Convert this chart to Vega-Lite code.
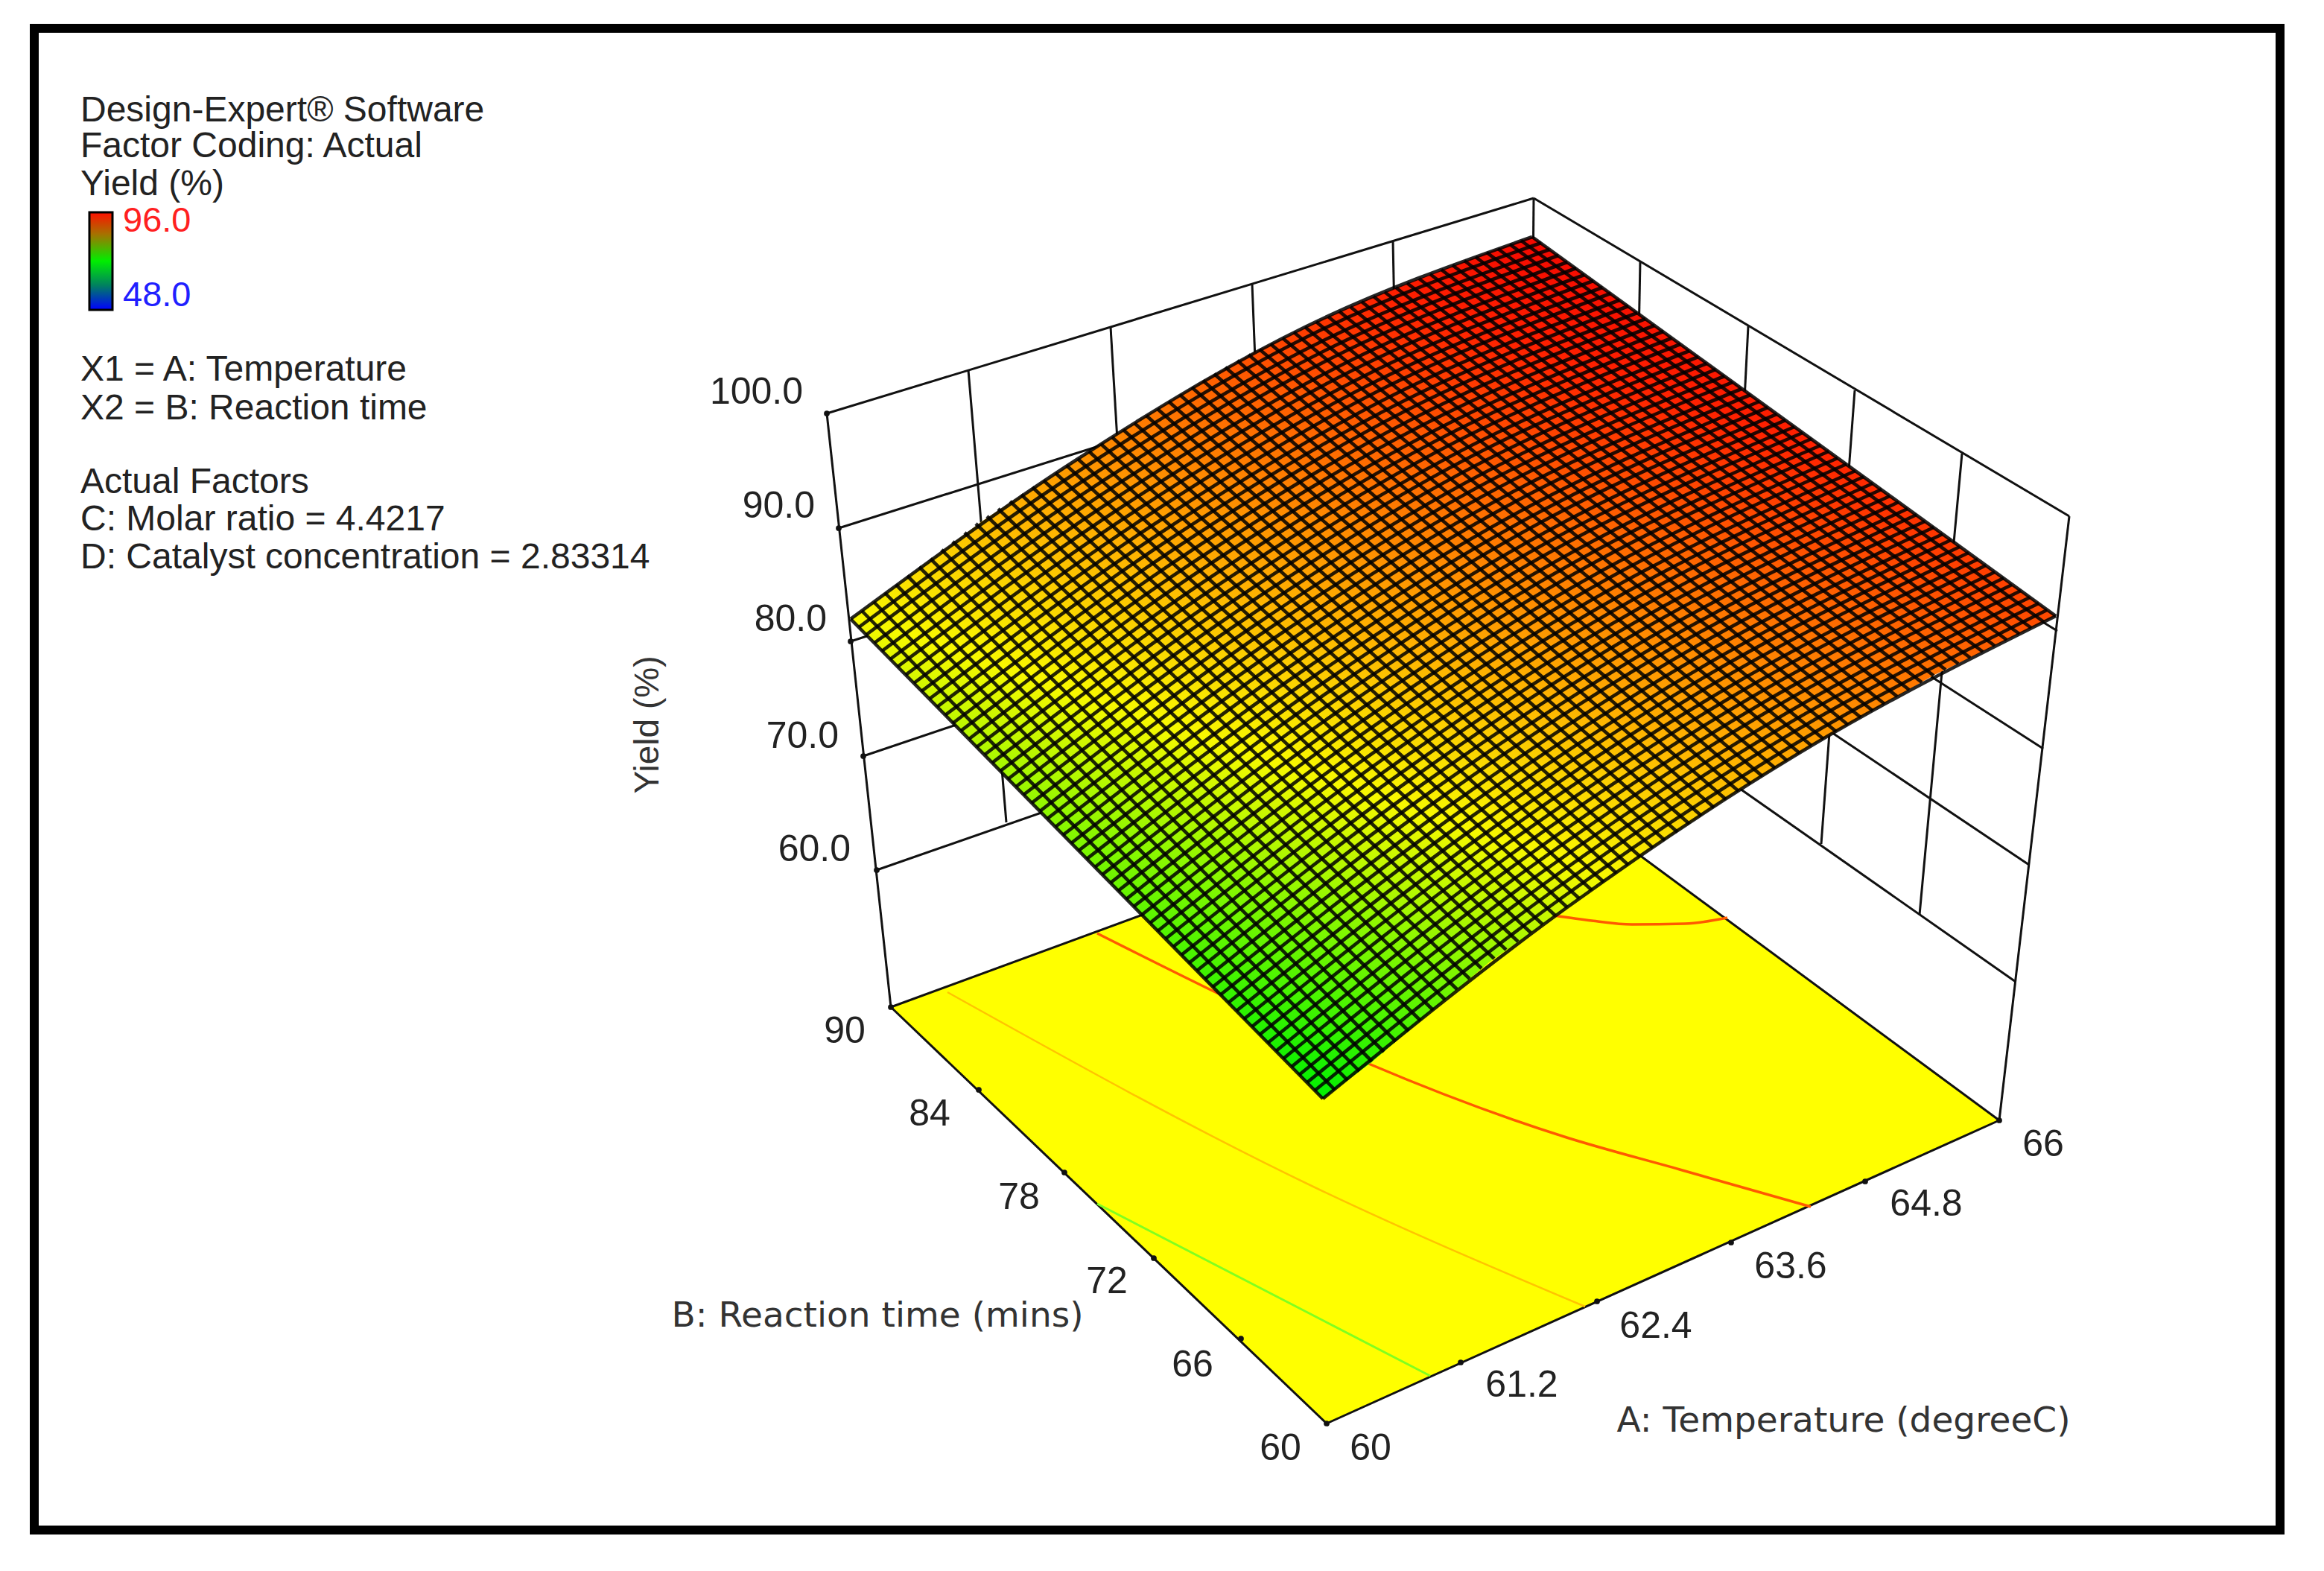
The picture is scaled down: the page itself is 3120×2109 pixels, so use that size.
{"$schema":"https://vega.github.io/schema/vega-lite/v6.json","width":3120,"height":2109,"padding":0,"autosize":{"type":"fit","contains":"padding"},"background":"white","config":{"view":{"stroke":null}},
"datasets":{
"frame":[{"x":46,"y":38,"x2":3061,"y2":2054}],
"bar":[{"x":120,"y":285,"x2":151,"y2":416}],
"walls":[{"x":1110,"y":555,"x2":2059,"y2":266},{"x":2059,"y":266,"x2":2778,"y2":693},{"x":2059,"y":266,"x2":2052,"y2":1038},{"x":1110,"y":555,"x2":1196,"y2":1352},{"x":2778,"y":693,"x2":2684,"y2":1504},
{"x":1126,"y":709,"x2":2058,"y2":415},{"x":1142,"y":861,"x2":2057,"y2":564},{"x":1159,"y":1015,"x2":2056,"y2":713},{"x":1177,"y":1168,"x2":2055,"y2":862},
{"x":2058,"y":415,"x2":2762,"y2":847},{"x":2057,"y":564,"x2":2743,"y2":1005},{"x":2056,"y":713,"x2":2724,"y2":1161},{"x":2055,"y":862,"x2":2706,"y2":1318},
{"x":1300,"y":497,"x2":1351,"y2":1104},{"x":1491,"y":439,"x2":1527,"y2":1047},{"x":1681,"y":381,"x2":1705,"y2":990},{"x":1870,"y":323,"x2":1882,"y2":930},
{"x":2202,"y":351,"x2":2190,"y2":975},{"x":2347,"y":438,"x2":2316,"y2":1045},{"x":2490,"y":524,"x2":2445,"y2":1133},{"x":2634,"y":609,"x2":2577,"y2":1228}],
"floor":[{"x":1196,"y":1352,"y2":1352},{"x":1781,"y":1137,"y2":1911},{"x":2052,"y":1038,"y2":1789},{"x":2684,"y":1504,"y2":1504}],
"flooredges":[{"x":1196,"y":1352,"x2":2052,"y2":1038},{"x":2052,"y":1038,"x2":2684,"y2":1504},{"x":1196,"y":1352,"x2":1781,"y2":1911},{"x":1781,"y":1911,"x2":2684,"y2":1504}],
"contours":[{"l":"a","x":2086,"y":1229},{"l":"a","x":2137,"y":1236},{"l":"a","x":2191,"y":1241},{"l":"a","x":2262,"y":1240},{"l":"a","x":2319,"y":1232},
{"l":"b","x":1473,"y":1253},{"l":"b","x":1636,"y":1334},{"l":"b","x":1840,"y":1429},{"l":"b","x":2100,"y":1526},{"l":"b","x":2255,"y":1570},{"l":"b","x":2431,"y":1620}],
"faint":[{"x":1272,"y":1332},{"x":1763,"y":1593},{"x":2128,"y":1754}],
"green":[{"x":1473,"y":1616},{"x":1920,"y":1847}],
"ticks":[{"x":1196,"y":1352},{"x":1314,"y":1463},{"x":1429,"y":1574},{"x":1549,"y":1689},{"x":1666,"y":1797},{"x":1781,"y":1911},{"x":1961,"y":1829},{"x":2144,"y":1747},{"x":2324,"y":1668},{"x":2504,"y":1586},{"x":2684,"y":1504},{"x":1110,"y":555},{"x":1126,"y":709},{"x":1142,"y":861},{"x":1159,"y":1015},{"x":1177,"y":1168}],
"surface":[{"x":1142,"y":831,"y2":831},{"x":1284,"y":726,"y2":975},{"x":1318,"y":700,"y2":1010},{"x":1395,"y":650,"y2":1088},{"x":1499,"y":583,"y2":1194},{"x":1534,"y":561,"y2":1229},{"x":1623,"y":507,"y2":1320},{"x":1684,"y":473,"y2":1382},{"x":1706,"y":462,"y2":1404},{"x":1776,"y":428,"y2":1475},{"x":1840,"y":400,"y2":1427},{"x":1880,"y":384,"y2":1393},{"x":2000,"y":338,"y2":1291},{"x":2057,"y":318,"y2":1251},{"x":2086,"y":339,"y2":1230},{"x":2201,"y":422,"y2":1151},{"x":2203,"y":424,"y2":1149},{"x":2338,"y":521,"y2":1059},{"x":2343,"y":525,"y2":1056},{"x":2434,"y":591,"y2":1000},{"x":2486,"y":629,"y2":970},{"x":2597,"y":709,"y2":906},{"x":2624,"y":729,"y2":893},{"x":2760,"y":827,"y2":827}],
"meshA":[
{"l":0,"x":1142,"y":831},{"l":0,"x":1447,"y":616},{"l":0,"x":1752,"y":439},{"l":0,"x":2057,"y":318},
{"l":1,"x":1153,"y":842},{"l":1,"x":1458,"y":626},{"l":1,"x":1763,"y":448},{"l":1,"x":2069,"y":326},
{"l":2,"x":1163,"y":852},{"l":2,"x":1469,"y":636},{"l":2,"x":1775,"y":458},{"l":2,"x":2080,"y":335},
{"l":3,"x":1174,"y":863},{"l":3,"x":1480,"y":646},{"l":3,"x":1786,"y":467},{"l":3,"x":2092,"y":343},
{"l":4,"x":1184,"y":874},{"l":4,"x":1491,"y":656},{"l":4,"x":1797,"y":476},{"l":4,"x":2104,"y":352},
{"l":5,"x":1195,"y":885},{"l":5,"x":1502,"y":666},{"l":5,"x":1809,"y":486},{"l":5,"x":2116,"y":360},
{"l":6,"x":1205,"y":895},{"l":6,"x":1513,"y":676},{"l":6,"x":1820,"y":495},{"l":6,"x":2127,"y":369},
{"l":7,"x":1216,"y":906},{"l":7,"x":1524,"y":686},{"l":7,"x":1831,"y":505},{"l":7,"x":2139,"y":377},
{"l":8,"x":1227,"y":917},{"l":8,"x":1535,"y":696},{"l":8,"x":1843,"y":514},{"l":8,"x":2151,"y":386},
{"l":9,"x":1237,"y":928},{"l":9,"x":1546,"y":706},{"l":9,"x":1854,"y":523},{"l":9,"x":2162,"y":394},
{"l":10,"x":1248,"y":938},{"l":10,"x":1557,"y":716},{"l":10,"x":1865,"y":533},{"l":10,"x":2174,"y":403},
{"l":11,"x":1258,"y":949},{"l":11,"x":1567,"y":726},{"l":11,"x":1877,"y":542},{"l":11,"x":2186,"y":411},
{"l":12,"x":1269,"y":960},{"l":12,"x":1578,"y":736},{"l":12,"x":1888,"y":551},{"l":12,"x":2198,"y":420},
{"l":13,"x":1279,"y":971},{"l":13,"x":1589,"y":746},{"l":13,"x":1899,"y":561},{"l":13,"x":2209,"y":428},
{"l":14,"x":1290,"y":981},{"l":14,"x":1600,"y":756},{"l":14,"x":1911,"y":570},{"l":14,"x":2221,"y":437},
{"l":15,"x":1301,"y":992},{"l":15,"x":1611,"y":766},{"l":15,"x":1922,"y":580},{"l":15,"x":2233,"y":445},
{"l":16,"x":1311,"y":1003},{"l":16,"x":1622,"y":777},{"l":16,"x":1933,"y":589},{"l":16,"x":2244,"y":454},
{"l":17,"x":1322,"y":1013},{"l":17,"x":1633,"y":787},{"l":17,"x":1945,"y":598},{"l":17,"x":2256,"y":462},
{"l":18,"x":1332,"y":1024},{"l":18,"x":1644,"y":797},{"l":18,"x":1956,"y":608},{"l":18,"x":2268,"y":471},
{"l":19,"x":1343,"y":1035},{"l":19,"x":1655,"y":807},{"l":19,"x":1967,"y":617},{"l":19,"x":2280,"y":479},
{"l":20,"x":1353,"y":1046},{"l":20,"x":1666,"y":817},{"l":20,"x":1979,"y":626},{"l":20,"x":2291,"y":488},
{"l":21,"x":1364,"y":1056},{"l":21,"x":1677,"y":827},{"l":21,"x":1990,"y":636},{"l":21,"x":2303,"y":496},
{"l":22,"x":1374,"y":1067},{"l":22,"x":1688,"y":837},{"l":22,"x":2001,"y":645},{"l":22,"x":2315,"y":505},
{"l":23,"x":1385,"y":1078},{"l":23,"x":1699,"y":847},{"l":23,"x":2013,"y":654},{"l":23,"x":2326,"y":513},
{"l":24,"x":1396,"y":1089},{"l":24,"x":1710,"y":857},{"l":24,"x":2024,"y":664},{"l":24,"x":2338,"y":522},
{"l":25,"x":1406,"y":1099},{"l":25,"x":1721,"y":867},{"l":25,"x":2035,"y":673},{"l":25,"x":2350,"y":530},
{"l":26,"x":1417,"y":1110},{"l":26,"x":1732,"y":877},{"l":26,"x":2047,"y":683},{"l":26,"x":2362,"y":539},
{"l":27,"x":1427,"y":1121},{"l":27,"x":1743,"y":887},{"l":27,"x":2058,"y":692},{"l":27,"x":2373,"y":547},
{"l":28,"x":1438,"y":1132},{"l":28,"x":1754,"y":897},{"l":28,"x":2069,"y":701},{"l":28,"x":2385,"y":556},
{"l":29,"x":1448,"y":1142},{"l":29,"x":1765,"y":907},{"l":29,"x":2081,"y":711},{"l":29,"x":2397,"y":564},
{"l":30,"x":1459,"y":1153},{"l":30,"x":1776,"y":917},{"l":30,"x":2092,"y":720},{"l":30,"x":2409,"y":573},
{"l":31,"x":1470,"y":1164},{"l":31,"x":1786,"y":927},{"l":31,"x":2103,"y":729},{"l":31,"x":2420,"y":581},
{"l":32,"x":1480,"y":1174},{"l":32,"x":1797,"y":937},{"l":32,"x":2115,"y":739},{"l":32,"x":2432,"y":589},
{"l":33,"x":1491,"y":1185},{"l":33,"x":1808,"y":947},{"l":33,"x":2126,"y":748},{"l":33,"x":2444,"y":598},
{"l":34,"x":1501,"y":1196},{"l":34,"x":1819,"y":957},{"l":34,"x":2137,"y":757},{"l":34,"x":2455,"y":606},
{"l":35,"x":1512,"y":1207},{"l":35,"x":1830,"y":967},{"l":35,"x":2149,"y":767},{"l":35,"x":2467,"y":615},
{"l":36,"x":1522,"y":1217},{"l":36,"x":1841,"y":977},{"l":36,"x":2160,"y":776},{"l":36,"x":2479,"y":623},
{"l":37,"x":1533,"y":1228},{"l":37,"x":1852,"y":987},{"l":37,"x":2171,"y":786},{"l":37,"x":2491,"y":632},
{"l":38,"x":1544,"y":1239},{"l":38,"x":1863,"y":997},{"l":38,"x":2183,"y":795},{"l":38,"x":2502,"y":640},
{"l":39,"x":1554,"y":1250},{"l":39,"x":1874,"y":1007},{"l":39,"x":2194,"y":804},{"l":39,"x":2514,"y":649},
{"l":40,"x":1565,"y":1260},{"l":40,"x":1885,"y":1017},{"l":40,"x":2205,"y":814},{"l":40,"x":2526,"y":657},
{"l":41,"x":1575,"y":1271},{"l":41,"x":1896,"y":1027},{"l":41,"x":2217,"y":823},{"l":41,"x":2537,"y":666},
{"l":42,"x":1586,"y":1282},{"l":42,"x":1907,"y":1037},{"l":42,"x":2228,"y":832},{"l":42,"x":2549,"y":674},
{"l":43,"x":1596,"y":1293},{"l":43,"x":1918,"y":1047},{"l":43,"x":2239,"y":842},{"l":43,"x":2561,"y":683},
{"l":44,"x":1607,"y":1303},{"l":44,"x":1929,"y":1057},{"l":44,"x":2251,"y":851},{"l":44,"x":2573,"y":691},
{"l":45,"x":1618,"y":1314},{"l":45,"x":1940,"y":1067},{"l":45,"x":2262,"y":860},{"l":45,"x":2584,"y":700},
{"l":46,"x":1628,"y":1325},{"l":46,"x":1951,"y":1078},{"l":46,"x":2273,"y":870},{"l":46,"x":2596,"y":708},
{"l":47,"x":1639,"y":1335},{"l":47,"x":1962,"y":1088},{"l":47,"x":2285,"y":879},{"l":47,"x":2608,"y":717},
{"l":48,"x":1649,"y":1346},{"l":48,"x":1973,"y":1098},{"l":48,"x":2296,"y":889},{"l":48,"x":2619,"y":725},
{"l":49,"x":1660,"y":1357},{"l":49,"x":1984,"y":1108},{"l":49,"x":2307,"y":898},{"l":49,"x":2631,"y":734},
{"l":50,"x":1670,"y":1368},{"l":50,"x":1995,"y":1118},{"l":50,"x":2319,"y":907},{"l":50,"x":2643,"y":742},
{"l":51,"x":1681,"y":1378},{"l":51,"x":2005,"y":1128},{"l":51,"x":2330,"y":917},{"l":51,"x":2655,"y":751},
{"l":52,"x":1691,"y":1389},{"l":52,"x":2016,"y":1138},{"l":52,"x":2341,"y":926},{"l":52,"x":2666,"y":759},
{"l":53,"x":1702,"y":1400},{"l":53,"x":2027,"y":1148},{"l":53,"x":2353,"y":935},{"l":53,"x":2678,"y":768},
{"l":54,"x":1713,"y":1411},{"l":54,"x":2038,"y":1158},{"l":54,"x":2364,"y":945},{"l":54,"x":2690,"y":776},
{"l":55,"x":1723,"y":1421},{"l":55,"x":2049,"y":1168},{"l":55,"x":2375,"y":954},{"l":55,"x":2701,"y":785},
{"l":56,"x":1734,"y":1432},{"l":56,"x":2060,"y":1178},{"l":56,"x":2387,"y":964},{"l":56,"x":2713,"y":793},
{"l":57,"x":1744,"y":1443},{"l":57,"x":2071,"y":1188},{"l":57,"x":2398,"y":973},{"l":57,"x":2725,"y":802},
{"l":58,"x":1755,"y":1453},{"l":58,"x":2082,"y":1198},{"l":58,"x":2409,"y":982},{"l":58,"x":2737,"y":810},
{"l":59,"x":1765,"y":1464},{"l":59,"x":2093,"y":1208},{"l":59,"x":2421,"y":992},{"l":59,"x":2748,"y":819},
{"l":60,"x":1776,"y":1475},{"l":60,"x":2104,"y":1218},{"l":60,"x":2432,"y":1001},{"l":60,"x":2760,"y":827}],
"meshB":[
{"x":1142,"y":831,"x2":1776,"y2":1475},{"x":1157,"y":820,"x2":1792,"y2":1463},{"x":1173,"y":808,"x2":1809,"y2":1450},{"x":1188,"y":796,"x2":1825,"y2":1438},{"x":1203,"y":785,"x2":1842,"y2":1425},{"x":1218,"y":773,"x2":1858,"y2":1412},{"x":1234,"y":761,"x2":1874,"y2":1398},{"x":1249,"y":750,"x2":1891,"y2":1384},{"x":1264,"y":738,"x2":1907,"y2":1370},{"x":1279,"y":727,"x2":1924,"y2":1356},
{"x":1295,"y":715,"x2":1940,"y2":1342},{"x":1310,"y":703,"x2":1956,"y2":1328},{"x":1325,"y":693,"x2":1973,"y2":1314},{"x":1340,"y":683,"x2":1989,"y2":1300},{"x":1356,"y":673,"x2":2006,"y2":1287},{"x":1371,"y":664,"x2":2022,"y2":1275},{"x":1386,"y":654,"x2":2038,"y2":1264},{"x":1401,"y":645,"x2":2055,"y2":1252},{"x":1417,"y":635,"x2":2071,"y2":1241},{"x":1432,"y":625,"x2":2088,"y2":1229},
{"x":1447,"y":616,"x2":2104,"y2":1218},{"x":1462,"y":606,"x2":2120,"y2":1206},{"x":1478,"y":596,"x2":2137,"y2":1195},{"x":1493,"y":587,"x2":2153,"y2":1184},{"x":1508,"y":577,"x2":2170,"y2":1172},{"x":1523,"y":568,"x2":2186,"y2":1161},{"x":1539,"y":558,"x2":2202,"y2":1150},{"x":1554,"y":549,"x2":2219,"y2":1138},{"x":1569,"y":539,"x2":2235,"y2":1128},{"x":1584,"y":530,"x2":2252,"y2":1117},
{"x":1600,"y":520,"x2":2268,"y2":1106},{"x":1615,"y":511,"x2":2284,"y2":1095},{"x":1630,"y":502,"x2":2301,"y2":1084},{"x":1645,"y":493,"x2":2317,"y2":1073},{"x":1661,"y":484,"x2":2334,"y2":1062},{"x":1676,"y":476,"x2":2350,"y2":1052},{"x":1691,"y":469,"x2":2366,"y2":1042},{"x":1706,"y":462,"x2":2383,"y2":1031},{"x":1722,"y":454,"x2":2399,"y2":1021},{"x":1737,"y":446,"x2":2416,"y2":1011},
{"x":1752,"y":439,"x2":2432,"y2":1001},{"x":1767,"y":432,"x2":2448,"y2":992},{"x":1783,"y":425,"x2":2465,"y2":982},{"x":1798,"y":418,"x2":2481,"y2":973},{"x":1813,"y":412,"x2":2498,"y2":963},{"x":1828,"y":405,"x2":2514,"y2":954},{"x":1844,"y":398,"x2":2530,"y2":945},{"x":1859,"y":392,"x2":2547,"y2":935},{"x":1874,"y":386,"x2":2563,"y2":926},{"x":1889,"y":380,"x2":2580,"y2":916},
{"x":1905,"y":374,"x2":2596,"y2":907},{"x":1920,"y":368,"x2":2612,"y2":899},{"x":1935,"y":362,"x2":2629,"y2":891},{"x":1950,"y":356,"x2":2645,"y2":883},{"x":1966,"y":350,"x2":2662,"y2":875},{"x":1981,"y":345,"x2":2678,"y2":867},{"x":1996,"y":339,"x2":2694,"y2":859},{"x":2011,"y":334,"x2":2711,"y2":851},{"x":2027,"y":328,"x2":2727,"y2":843},{"x":2042,"y":323,"x2":2744,"y2":835},{"x":2057,"y":318,"x2":2760,"y2":827}],
"panel":[{"x":108,"y":149,"t":"Design-Expert® Software"},{"x":108,"y":197,"t":"Factor Coding: Actual"},{"x":108,"y":248,"t":"Yield (%)"},{"x":108,"y":497,"t":"X1 = A: Temperature"},{"x":108,"y":549,"t":"X2 = B: Reaction time"},{"x":108,"y":648,"t":"Actual Factors"},{"x":108,"y":698,"t":"C: Molar ratio = 4.4217"},{"x":108,"y":749,"t":"D: Catalyst concentration = 2.83314"}],
"zlabels":[{"x":1078,"y":527,"t":"100.0"},{"x":1094,"y":680,"t":"90.0"},{"x":1110,"y":832,"t":"80.0"},{"x":1126,"y":989,"t":"70.0"},{"x":1142,"y":1141,"t":"60.0"}],
"floorlabels":[{"x":1134,"y":1385,"t":"90"},{"x":1248,"y":1496,"t":"84"},{"x":1368,"y":1608,"t":"78"},{"x":1486,"y":1721,"t":"72"},{"x":1601,"y":1833,"t":"66"},{"x":1719,"y":1945,"t":"60"},{"x":1840,"y":1945,"t":"60"},{"x":2043,"y":1860,"t":"61.2"},{"x":2223,"y":1781,"t":"62.4"},{"x":2404,"y":1701,"t":"63.6"},{"x":2586,"y":1617,"t":"64.8"},{"x":2743,"y":1537,"t":"66"}],
"titles":[{"x":1178,"y":1767,"t":"B: Reaction time (mins)"},{"x":2475,"y":1908,"t":"A: Temperature (degreeC)"}],
"ztitle":[{"x":870,"y":973,"t":"Yield (%)"}],
"hi":[{"x":165,"y":297,"t":"96.0"}],
"lo":[{"x":165,"y":397,"t":"48.0"}]
},
"encoding":{"x":{"field":"x","type":"quantitative","scale":{"domain":[0,3120],"nice":false,"zero":false},"axis":null},"y":{"field":"y","type":"quantitative","scale":{"domain":[0,2109],"reverse":true,"nice":false,"zero":false},"axis":null}},
"layer":[
{"data":{"name":"walls"},"mark":{"type":"rule","stroke":"#111111","strokeWidth":3},"encoding":{"x2":{"field":"x2"},"y2":{"field":"y2"}}},
{"data":{"name":"floor"},"mark":{"type":"area","fill":"#ffff00"},"encoding":{"y2":{"field":"y2"}}},
{"data":{"name":"flooredges"},"mark":{"type":"rule","stroke":"#111111","strokeWidth":3},"encoding":{"x2":{"field":"x2"},"y2":{"field":"y2"}}},
{"data":{"name":"contours"},"mark":{"type":"line","stroke":"#ff5a00","strokeWidth":3.5,"interpolate":"monotone"},"encoding":{"detail":{"field":"l"}}},
{"data":{"name":"faint"},"mark":{"type":"line","stroke":"#ffc400","strokeWidth":2.5,"interpolate":"monotone"}},
{"data":{"name":"green"},"mark":{"type":"line","stroke":"#80ff20","strokeWidth":3}},
{"data":{"name":"ticks"},"mark":{"type":"point","filled":true,"fill":"#111111","opacity":1,"size":60}},
{"data":{"name":"surface"},"mark":{"type":"area","fill":{"gradient":"linear","x1":0.392,"y1":1,"x2":0.833,"y2":0.085,"stops":[{"offset":0,"color":"#00f000"},{"offset":0.2,"color":"#90f800"},{"offset":0.33,"color":"#f8f800"},{"offset":0.5,"color":"#ffb000"},{"offset":0.7,"color":"#ff6000"},{"offset":0.85,"color":"#ff2000"},{"offset":1,"color":"#f00000"}]}},"encoding":{"y2":{"field":"y2"}}},
{"data":{"name":"meshA"},"mark":{"type":"line","stroke":"#000000","strokeWidth":4.6,"strokeOpacity":0.85,"interpolate":"monotone"},"encoding":{"detail":{"field":"l"}}},
{"data":{"name":"meshB"},"mark":{"type":"rule","stroke":"#000000","strokeWidth":4.6,"strokeOpacity":0.85},"encoding":{"x2":{"field":"x2"},"y2":{"field":"y2"}}},
{"data":{"name":"bar"},"mark":{"type":"rect","stroke":"#000000","strokeWidth":3,"fill":{"gradient":"linear","x1":0,"y1":0,"x2":0,"y2":1,"stops":[{"offset":0,"color":"#ff1000"},{"offset":0.22,"color":"#a87000"},{"offset":0.5,"color":"#00ee00"},{"offset":0.75,"color":"#008060"},{"offset":1,"color":"#0000ff"}]}},"encoding":{"x2":{"field":"x2"},"y2":{"field":"y2"}}},
{"data":{"name":"panel"},"mark":{"type":"text","align":"left","baseline":"middle","font":"Liberation Sans","fontSize":48,"fill":"#222222"},"encoding":{"text":{"field":"t"}}},
{"data":{"name":"zlabels"},"mark":{"type":"text","align":"right","baseline":"middle","font":"Liberation Sans","fontSize":50,"fill":"#222222"},"encoding":{"text":{"field":"t"}}},
{"data":{"name":"floorlabels"},"mark":{"type":"text","align":"center","baseline":"middle","font":"Liberation Sans","fontSize":50,"fill":"#222222"},"encoding":{"text":{"field":"t"}}},
{"data":{"name":"titles"},"mark":{"type":"text","align":"center","baseline":"middle","font":"DejaVu Sans","fontSize":47,"fill":"#333333"},"encoding":{"text":{"field":"t"}}},
{"data":{"name":"ztitle"},"mark":{"type":"text","align":"center","baseline":"middle","angle":270,"font":"Liberation Sans","fontSize":46,"fill":"#333333"},"encoding":{"text":{"field":"t"}}},
{"data":{"name":"hi"},"mark":{"type":"text","align":"left","baseline":"middle","font":"Liberation Sans","fontSize":47,"fill":"#ff2020"},"encoding":{"text":{"field":"t"}}},
{"data":{"name":"lo"},"mark":{"type":"text","align":"left","baseline":"middle","font":"Liberation Sans","fontSize":47,"fill":"#2020ff"},"encoding":{"text":{"field":"t"}}},
{"data":{"name":"frame"},"mark":{"type":"rect","filled":false,"stroke":"#000000","strokeWidth":12},"encoding":{"x2":{"field":"x2"},"y2":{"field":"y2"}}}
]}
